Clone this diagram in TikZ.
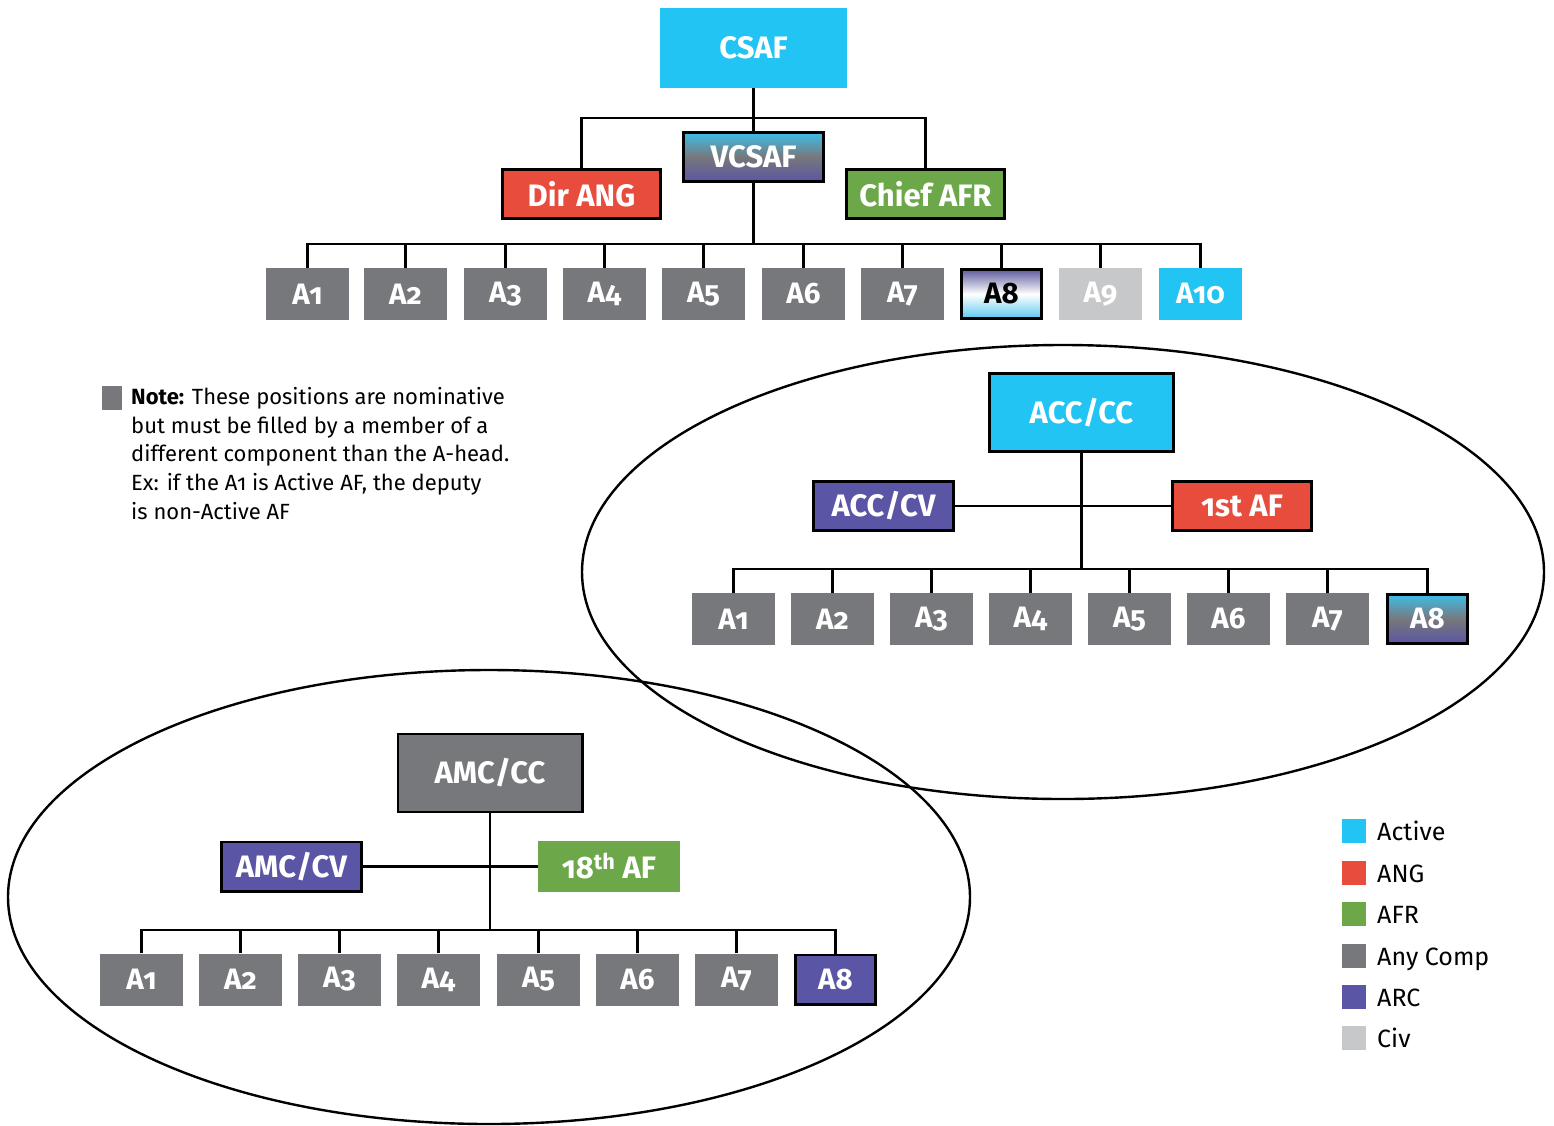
\documentclass[tikz,border=0pt]{standalone}
\usepackage{fontspec}
\setmainfont{Fira Sans}[Numbers=OldStyle]
\definecolor{cact}{HTML}{22C4F3}
\definecolor{cang}{HTML}{E84C3D}
\definecolor{cafr}{HTML}{6CA84A}
\definecolor{cany}{HTML}{77787B}
\definecolor{carc}{HTML}{5B55A5}
\definecolor{cciv}{HTML}{C7C8CA}
\definecolor{gcyan}{HTML}{3EBDEA}
\definecolor{gpurp}{HTML}{5D5A9C}
\definecolor{glblue}{HTML}{5CC8F0}
\newcommand{\hdfont}{\fontsize{31}{31}\selectfont\bfseries}
\newcommand{\alfont}{\fontsize{29.5}{29.5}\selectfont\bfseries}
\begin{document}
\begin{tikzpicture}[x=1pt,y=-1pt,
  conn/.style={line width=2.6pt},
  bx/.style={rectangle, inner sep=0pt, text=white},
  bd/.style={draw=black, line width=2.6pt},
  abox/.style={bx, font=\alfont, minimum width=83pt, minimum height=52pt},
  aboxb/.style={abox, bd, minimum width=80.4pt, minimum height=49.4pt},
  midbox/.style={bx, font=\hdfont, bd, minimum width=158.4pt, minimum height=49.4pt},
  bigbox/.style={bx, font=\hdfont, bd, minimum width=184.4pt, minimum height=78pt},
  vgrad/.style={top color=gcyan, bottom color=carc, middle color=cany},
  lgbox/.style={inner sep=0pt, minimum size=24pt, anchor=north west},
  lgtext/.style={inner sep=0pt, anchor=base west, font=\fontsize{25}{25}\selectfont},
  oval/.style={line width=2.4pt}
]
\useasboundingbox (0,0) rectangle (1554,1125);

% ellipses
\draw[oval] (1063,572) ellipse [x radius=481pt, y radius=227pt];
\draw[oval] (489,897) ellipse [x radius=481pt, y radius=227pt];

% ---------- top tree ----------
\node[bx, font=\hdfont, fill=cact, minimum width=187pt, minimum height=80pt] (csaf) at (753.5,48) {CSAF};
\node[bx, font=\hdfont, bd, vgrad, minimum width=140.4pt, minimum height=49.4pt] (vcsaf) at (753.5,157) {VCSAF};
\node[midbox, fill=cang] (dirang) at (581.5,194) {Dir ANG};
\node[midbox, fill=cafr] (chiefafr) at (925.5,194) {Chief AFR};

\foreach \n/\x/\col in {1/307.5/cany, 2/405.5/cany, 3/505.5/cany,
  4/604.5/cany, 5/703.5/cany, 6/803.5/cany, 7/902.5/cany,
  9/1100.5/cciv, 10/1200.5/cact}
  {\node[abox, fill=\col] (t\n) at (\x,294) {A\n};}
\node[aboxb, top color=gpurp, bottom color=glblue, middle color=white, text=black] (t8) at (1001.5,294) {A8};

\coordinate (jtop) at (753.5,118);
\coordinate (busT) at (753.5,244);
\draw[conn] (csaf.south) -- (vcsaf.north);
\draw[conn] (dirang.north) |- (jtop) -| (chiefafr.north);
\draw[conn] (vcsaf.south) -- (busT);
\draw[conn] (t1.north) |- (busT) -| (t10.north);
\foreach \n in {2,...,9}
  {\draw[conn] (t\n.north) -- (t\n.north |- busT);}

% ---------- ACC tree ----------
\node[bigbox, fill=cact] (acccc) at (1081.5,412.5) {ACC/CC};
\node[midbox, fill=carc, minimum width=140.4pt] (acccv) at (883.5,506) {ACC/CV};
\node[midbox, fill=cang, minimum width=139.4pt] (firstaf) at (1242,506) {1st AF};
\foreach \n/\x in {1/733.5, 2/832.5, 3/931.5, 4/1030.5, 5/1129.5, 6/1228.5, 7/1327.5}
  {\node[abox, fill=cany] (c\n) at (\x,619) {A\n};}
\node[aboxb, vgrad] (c8) at (1427.5,619) {A8};

\coordinate (busC) at (1081.5,569);
\draw[conn] (acccv) -- (firstaf);
\draw[conn] (acccc.south) -- (busC);
\draw[conn] (c1.north) |- (busC) -| (c8.north);
\foreach \n in {2,...,7}
  {\draw[conn] (c\n.north) -- (c\n.north |- busC);}

% ---------- AMC tree ----------
\node[bigbox, fill=cany] (amccc) at (490,773) {AMC/CC};
\node[midbox, fill=carc, minimum width=140.4pt] (amccv) at (291.5,866.5) {AMC/CV};
\node[bx, font=\hdfont, fill=cafr, minimum width=142pt, minimum height=51pt] (eighteen) at (609,866.5) {18\textsuperscript{th} AF};
\foreach \n/\x in {1/141.5, 2/240.5, 3/339.5, 4/438.5, 5/538.5, 6/637.5, 7/736.5}
  {\node[abox, fill=cany] (m\n) at (\x,979.5) {A\n};}
\node[aboxb, fill=carc] (m8) at (835.5,979.5) {A8};

\coordinate (busM) at (490,930);
\draw[conn] (amccv) -- (eighteen);
\draw[conn] (amccc.south) -- (busM);
\draw[conn] (m1.north) |- (busM) -| (m8.north);
\foreach \n in {2,...,7}
  {\draw[conn] (m\n.north) -- (m\n.north |- busM);}

% ---------- note ----------
\node[fill=cany, inner sep=0pt, minimum width=20pt, minimum height=24pt, anchor=north west] (notebox) at (102,386) {};
\node[inner sep=0pt, anchor=north west, align=left, font=\fontsize{22}{28.8}\selectfont] (note) at (131,387)
  {\textbf{Note:} These positions are nominative\\
   but must be filled by a member of a\\
   different component than the A-head.\\
   Ex: if the A1 is Active AF, the deputy\\
   is non-Active AF};

% ---------- legend ----------
\node[lgbox, fill=cact] (lg1) at (1342,819) {};
\node[lgbox, fill=cang] (lg2) at (1342,861) {};
\node[lgbox, fill=cafr] (lg3) at (1342,902) {};
\node[lgbox, fill=cany] (lg4) at (1342,944) {};
\node[lgbox, fill=carc] (lg5) at (1342,985) {};
\node[lgbox, fill=cciv] (lg6) at (1342,1026) {};
\node[lgtext] (lt1) at (1377,840) {Active};
\node[lgtext] (lt2) at (1377,882) {ANG};
\node[lgtext] (lt3) at (1377,923) {AFR};
\node[lgtext] (lt4) at (1377,965) {Any Comp};
\node[lgtext] (lt5) at (1377,1006) {ARC};
\node[lgtext] (lt6) at (1377,1047) {Civ};
\end{tikzpicture}
\end{document}
